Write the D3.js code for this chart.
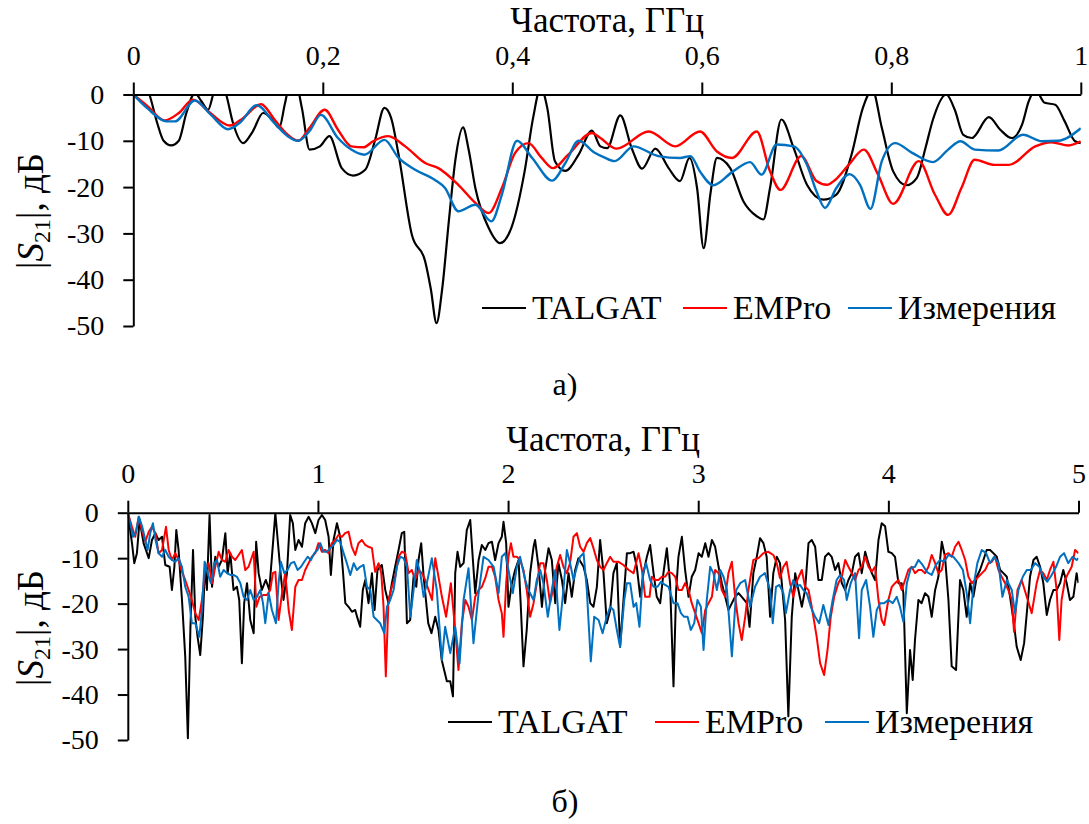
<!DOCTYPE html>
<html>
<head>
<meta charset="utf-8">
<script src="https://cdn.jsdelivr.net/npm/d3@7"></script>
<style>
body { margin: 0; background: #fff; }
svg { display: block; }
svg text { font-family: "Liberation Serif", "Times New Roman", serif; fill: #000; }
</style>
</head>
<body>
<svg id="drawing_region"></svg>
<script>
// ---- data (frequency GHz, |S21| dB) ----
const seriesNames = ["TALGAT", "EMPro", "Измерения"];
const yTicks = [0, -10, -20, -30, -40, -50];
const xTicksA = [0, 0.2, 0.4, 0.6, 0.8, 1];
const xTicksB = [0, 1, 2, 3, 4, 5];

// panel а) 0..1 GHz
const talgatA = [[0,4],[0.01,3],[0.017,0],[0.025,-6],[0.032,-10],[0.04,-11],[0.048,-10],[0.056,-4],[0.065,0.3],[0.072,-1.5],[0.079,-3.3],[0.085,0.5],[0.091,3],[0.098,0],[0.105,-6],[0.116,-10.5],[0.126,-8],[0.137,-4],[0.147,-5.5],[0.154,-7.2],[0.16,-2],[0.165,2],[0.172,2],[0.178,-3],[0.186,-11.9],[0.197,-11.2],[0.207,-9],[0.22,-15.9],[0.232,-17.5],[0.245,-16.2],[0.255,-10],[0.265,-2.9],[0.272,-5],[0.28,-13],[0.294,-30.3],[0.308,-36],[0.314,-42],[0.32,-49.4],[0.326,-42],[0.333,-27.4],[0.34,-14],[0.348,-7.1],[0.354,-12],[0.361,-20.2],[0.375,-28.8],[0.387,-32.1],[0.399,-28.8],[0.413,-16.6],[0.422,-5],[0.43,1.5],[0.437,-3],[0.445,-14.4],[0.456,-16.5],[0.47,-13],[0.484,-7.8],[0.493,-11.2],[0.5,-11.6],[0.514,-4.5],[0.526,-11.6],[0.537,-16],[0.551,-11.7],[0.565,-15.9],[0.577,-18.7],[0.587,-13.7],[0.595,-20.2],[0.602,-33.2],[0.609,-21.6],[0.616,-13.7],[0.63,-15.9],[0.644,-23.1],[0.658,-26.3],[0.665,-27],[0.672,-20.2],[0.684,-5.4],[0.697,-11.6],[0.711,-19.5],[0.728,-22.7],[0.742,-21.6],[0.758,-13],[0.77,-2.9],[0.78,1],[0.79,-7.2],[0.802,-16.6],[0.816,-19.6],[0.827,-18],[0.836,-11.6],[0.844,-5.4],[0.858,0],[0.867,-3.3],[0.876,-8.7],[0.885,-9.4],[0.903,-4.9],[0.915,-7.6],[0.927,-9.4],[0.938,-6.5],[0.945,-1.5],[0.952,1],[0.962,-1.8],[0.973,-2.2],[0.983,-5.8],[0.994,-10.1],[1,-10.5]];
const empro_A = [[0,0],[0.015,-2.5],[0.033,-5.6],[0.048,-4],[0.063,-1.1],[0.079,-3.6],[0.102,-6.7],[0.114,-5.4],[0.135,-2.1],[0.149,-5.4],[0.163,-8.7],[0.174,-10],[0.186,-7.2],[0.202,-3.3],[0.216,-7.6],[0.23,-11.2],[0.243,-11.4],[0.253,-10.1],[0.269,-9],[0.287,-11.2],[0.308,-14.8],[0.322,-15.9],[0.343,-19.5],[0.361,-23.4],[0.375,-25.6],[0.389,-20.2],[0.403,-12.6],[0.417,-10.5],[0.431,-13.7],[0.443,-15.9],[0.459,-13],[0.484,-8.3],[0.493,-9.4],[0.51,-11.7],[0.544,-8],[0.572,-11.2],[0.598,-8],[0.616,-12.3],[0.632,-13.7],[0.658,-8],[0.672,-16.6],[0.683,-20.6],[0.705,-13.3],[0.721,-18.7],[0.732,-19.5],[0.741,-18.4],[0.755,-15.2],[0.771,-11.9],[0.786,-17.3],[0.802,-23.6],[0.829,-14.4],[0.846,-21.6],[0.86,-26],[0.874,-20.2],[0.888,-14.1],[0.909,-15.2],[0.924,-15.2],[0.952,-11.2],[0.969,-10.3],[0.987,-11],[1,-10.1]];
const measA = [[0,0],[0.015,-3],[0.035,-5.8],[0.044,-5.8],[0.065,-1.3],[0.082,-4.4],[0.1,-7.5],[0.113,-6],[0.13,-2.3],[0.149,-6.2],[0.163,-9],[0.174,-10],[0.186,-7.9],[0.198,-4.4],[0.216,-9.4],[0.23,-11.9],[0.244,-13],[0.265,-9.8],[0.28,-13.7],[0.297,-16.2],[0.318,-18.4],[0.329,-20.2],[0.343,-25.2],[0.361,-23.8],[0.378,-27.4],[0.389,-21.6],[0.405,-10],[0.421,-13.7],[0.442,-18.6],[0.456,-14.8],[0.47,-10],[0.487,-12.6],[0.497,-13.6],[0.508,-14.4],[0.528,-11.2],[0.554,-13.3],[0.577,-13.7],[0.588,-13.3],[0.598,-16.6],[0.612,-19.6],[0.633,-16.6],[0.651,-14.6],[0.663,-17.3],[0.679,-10.8],[0.697,-11.2],[0.711,-15.2],[0.721,-20.9],[0.73,-24.5],[0.742,-20.2],[0.756,-17.2],[0.767,-19.5],[0.778,-24.7],[0.79,-14.4],[0.804,-10.5],[0.822,-12.6],[0.844,-14.6],[0.86,-11.9],[0.873,-10.1],[0.888,-11.9],[0.913,-12.1],[0.939,-8.7],[0.959,-10.1],[0.976,-10],[1,-7.3]];

// panel б) 0..5 GHz
const talgatB = [[0,0],[0.022,-6.7],[0.034,-11.1],[0.048,-8.9],[0.062,-1.6],[0.083,-6.7],[0.11,-10],[0.127,-6],[0.145,-4.5],[0.162,-6],[0.18,-5.3],[0.197,-11.5],[0.22,-11.9],[0.232,-17],[0.245,-11.9],[0.255,-3.8],[0.267,-8.2],[0.285,-19.2],[0.302,-31.6],[0.316,-49.6],[0.329,-25.8],[0.343,-8.2],[0.355,-22.9],[0.367,-27.3],[0.381,-31.3],[0.395,-22.9],[0.407,-11.1],[0.416,-17],[0.43,-0.5],[0.443,-16.3],[0.46,-9.7],[0.478,-11.9],[0.495,-10.4],[0.513,-4.5],[0.525,-13.3],[0.539,-8.9],[0.556,-17],[0.574,-16.3],[0.586,-19.2],[0.6,-33.1],[0.612,-19.9],[0.627,-15.5],[0.644,-23.6],[0.662,-26.5],[0.675,-6.4],[0.688,-13.3],[0.705,-17],[0.726,-14.8],[0.744,-17],[0.758,-9.7],[0.776,-0.1],[0.793,-8.2],[0.807,-14.8],[0.819,-19.2],[0.837,-13.3],[0.854,-0.5],[0.868,-2.3],[0.881,-8.2],[0.898,-6],[0.916,-7.5],[0.933,-2.3],[0.951,-0.9],[0.968,-2.3],[0.986,-4.5],[1.003,-1.6],[1.021,-0.5],[1.038,-1.6],[1.056,-5.3],[1.068,-13.7],[1.082,-6],[1.1,-2.3],[1.117,-5.3],[1.131,-12.6],[1.144,-19.9],[1.161,-20.7],[1.179,-21.8],[1.196,-21.4],[1.208,-23.2],[1.222,-25.1],[1.236,-17],[1.249,-14.8],[1.266,-19.9],[1.284,-13.3],[1.298,-21.4],[1.313,-12.6],[1.336,-11.5],[1.354,-17],[1.371,-19.9],[1.389,-15.5],[1.406,-11.9],[1.424,-8.2],[1.441,-4.5],[1.454,-4.2],[1.468,-24.3],[1.485,-23.6],[1.503,-14.1],[1.517,-16.3],[1.529,-10.4],[1.543,-6.7],[1.556,-14.1],[1.58,-24.3],[1.597,-26.5],[1.617,-22.9],[1.634,-25.8],[1.651,-32.4],[1.678,-37.1],[1.696,-37.1],[1.71,-40.4],[1.722,-13.3],[1.734,-8.6],[1.748,-11.9],[1.766,-11.1],[1.783,-3.8],[1.801,-1.6],[1.815,-10.4],[1.827,-17.7],[1.845,-10.4],[1.862,-7.1],[1.88,-8.2],[1.897,-6.7],[1.915,-6.4],[1.932,-10.4],[1.95,-6.7],[1.967,-5.3],[1.976,-2],[1.99,-6.7],[2.002,-20.7],[2.02,-15.5],[2.037,-12.6],[2.055,-10.4],[2.067,-20.7],[2.081,-33.8],[2.098,-25.8],[2.116,-13.3],[2.134,-7.5],[2.142,-6],[2.16,-11.9],[2.178,-20.7],[2.195,-12.6],[2.213,-7.8],[2.23,-10.4],[2.248,-19.9],[2.265,-11.1],[2.283,-14.8],[2.3,-19.9],[2.318,-13.3],[2.335,-18.5],[2.353,-12.6],[2.37,-10],[2.397,-11.9],[2.414,-14.8],[2.432,-19.9],[2.449,-20.7],[2.467,-16.3],[2.484,-6],[2.502,-13.3],[2.519,-24.3],[2.537,-21.4],[2.554,-13.3],[2.572,-11.1],[2.589,-29.5],[2.607,-19.2],[2.625,-8.9],[2.642,-8.9],[2.66,-8.6],[2.677,-11.9],[2.695,-18.5],[2.712,-13.3],[2.73,-9.7],[2.747,-7.1],[2.765,-13.3],[2.782,-18.5],[2.8,-19.9],[2.817,-13.3],[2.835,-7.8],[2.852,-15.5],[2.87,-38.2],[2.884,-17],[2.896,-9.7],[2.914,-5.3],[2.931,-12.6],[2.949,-18.5],[2.966,-14.1],[2.984,-12.6],[3.002,-8.9],[3.019,-9.7],[3.037,-6.7],[3.054,-9.7],[3.072,-6],[3.089,-7.5],[3.107,-11.9],[3.124,-15.5],[3.142,-18.5],[3.159,-21.4],[3.177,-19.9],[3.194,-18.5],[3.212,-17.7],[3.229,-18.5],[3.256,-19.9],[3.27,-25.1],[3.29,-13.3],[3.308,-9.7],[3.325,-5.6],[3.343,-6.7],[3.36,-9.7],[3.378,-22.9],[3.395,-13.3],[3.413,-9.7],[3.43,-11.1],[3.457,-23.6],[3.474,-44.8],[3.492,-22.9],[3.51,-13.3],[3.527,-17],[3.545,-20.7],[3.562,-17],[3.58,-6.7],[3.597,-6],[3.615,-7.5],[3.632,-14.8],[3.65,-14.8],[3.667,-9.7],[3.685,-8.9],[3.702,-9.7],[3.72,-12.6],[3.737,-11.1],[3.755,-15.5],[3.773,-17],[3.79,-14.8],[3.808,-13.3],[3.825,-9.7],[3.843,-8.9],[3.86,-13.3],[3.878,-8.6],[3.895,-11.1],[3.913,-13.3],[3.93,-14.8],[3.948,-6],[3.965,-2.3],[3.983,-3],[4,-8.6],[4.018,-8.9],[4.035,-9.7],[4.053,-15.5],[4.07,-15.5],[4.079,-17.7],[4.097,-44.1],[4.114,-30.2],[4.128,-36.8],[4.14,-28],[4.158,-19.2],[4.175,-19.9],[4.193,-17.7],[4.211,-18.5],[4.228,-22.9],[4.246,-17],[4.263,-14.1],[4.281,-6.4],[4.298,-9.7],[4.316,-19.2],[4.333,-33.8],[4.356,-34.6],[4.377,-14.8],[4.394,-17],[4.412,-22.9],[4.43,-15.5],[4.447,-18.5],[4.465,-14.1],[4.482,-12.6],[4.5,-10.4],[4.517,-8.2],[4.535,-8.2],[4.552,-8.9],[4.57,-9.7],[4.588,-12.6],[4.605,-13.3],[4.623,-14.1],[4.64,-18.5],[4.658,-23.6],[4.675,-29.5],[4.696,-32.4],[4.714,-28.7],[4.731,-20.7],[4.745,-14.1],[4.763,-10.4],[4.78,-9.7],[4.798,-11.9],[4.815,-15.5],[4.833,-22.5],[4.85,-19.2],[4.868,-17],[4.885,-17],[4.903,-15.5],[4.92,-12.6],[4.938,-15.5],[4.955,-19.2],[4.973,-18.5],[4.99,-13.3],[5,-15.5]];
const empro_B = [[0,0],[0.022,-3.1],[0.039,-5.3],[0.057,-0.9],[0.074,-3.8],[0.092,-6.4],[0.11,-4.2],[0.127,-3.1],[0.145,-4.5],[0.162,-8.9],[0.18,-8.2],[0.201,-3.1],[0.215,-8.2],[0.232,-10.4],[0.25,-8.9],[0.267,-10.4],[0.285,-13],[0.302,-14.8],[0.32,-17],[0.337,-19.2],[0.355,-22.1],[0.373,-23.6],[0.39,-19.2],[0.407,-12.6],[0.425,-11.1],[0.443,-15.5],[0.46,-11.9],[0.478,-8.6],[0.495,-10.4],[0.513,-10.8],[0.53,-8.2],[0.548,-9.7],[0.565,-10.4],[0.583,-9.3],[0.6,-8.2],[0.618,-12.6],[0.635,-11.9],[0.653,-9.7],[0.662,-8.6],[0.676,-20.7],[0.693,-18.5],[0.714,-18.1],[0.732,-18.1],[0.749,-17],[0.763,-13.3],[0.776,-13],[0.793,-23.6],[0.811,-17.7],[0.828,-13.3],[0.846,-21.4],[0.863,-25.8],[0.881,-16.3],[0.898,-14.8],[0.916,-14.8],[0.933,-12.6],[0.951,-11.1],[0.968,-9.7],[0.986,-8.9],[1.003,-6.7],[1.021,-8.6],[1.038,-8.2],[1.056,-8.9],[1.073,-6.7],[1.091,-6],[1.108,-4.9],[1.126,-5.3],[1.143,-4.5],[1.161,-4.2],[1.178,-7.5],[1.196,-9.3],[1.213,-6.7],[1.231,-6],[1.249,-7.1],[1.266,-7.5],[1.284,-7.8],[1.301,-13],[1.319,-11.1],[1.333,-13.3],[1.345,-20.7],[1.357,-36],[1.371,-19.2],[1.389,-16.3],[1.406,-14.1],[1.424,-9.7],[1.441,-8.6],[1.459,-8.9],[1.477,-13.3],[1.494,-12.6],[1.511,-14.8],[1.529,-12.6],[1.547,-13.3],[1.564,-14.8],[1.582,-17],[1.6,-19.2],[1.617,-10],[1.634,-14.1],[1.652,-18.5],[1.674,-22.9],[1.699,-15.5],[1.722,-25.8],[1.739,-34.6],[1.757,-24.3],[1.775,-19.2],[1.792,-20.7],[1.81,-23.6],[1.827,-18.5],[1.845,-17],[1.862,-16.3],[1.88,-14.4],[1.897,-11.9],[1.915,-11.9],[1.932,-14.1],[1.95,-19.2],[1.967,-22.1],[1.976,-27.3],[1.99,-15.5],[2.002,-9.7],[2.015,-6.7],[2.028,-9.7],[2.046,-9.7],[2.063,-10.4],[2.081,-12.6],[2.098,-17],[2.116,-22.9],[2.134,-19.9],[2.151,-15.5],[2.169,-11.1],[2.186,-11.1],[2.204,-14.8],[2.221,-19.9],[2.239,-16.3],[2.256,-11.9],[2.274,-9.3],[2.291,-11.9],[2.309,-13.3],[2.326,-11.1],[2.344,-5.3],[2.362,-4.5],[2.379,-7.5],[2.397,-8.6],[2.414,-6.7],[2.432,-5.6],[2.449,-7.8],[2.467,-10.4],[2.484,-11.9],[2.502,-12.6],[2.519,-11.1],[2.537,-9.7],[2.554,-10.8],[2.581,-10.8],[2.607,-11.5],[2.634,-12.6],[2.66,-13.3],[2.686,-8.9],[2.704,-12.6],[2.721,-18.5],[2.744,-18.5],[2.756,-14.1],[2.774,-14.8],[2.791,-14.8],[2.809,-14.1],[2.826,-14.1],[2.844,-13],[2.861,-13.3],[2.879,-14.1],[2.896,-17],[2.914,-17],[2.931,-15.5],[2.949,-17],[2.966,-19.9],[2.984,-22.1],[3.002,-24.3],[3.019,-26.5],[3.037,-21.4],[3.054,-19.9],[3.072,-18.5],[3.089,-12.6],[3.107,-13.3],[3.124,-17],[3.142,-18.5],[3.159,-13.3],[3.177,-10.8],[3.194,-18.5],[3.212,-24.3],[3.229,-28],[3.247,-22.9],[3.264,-17],[3.29,-10.4],[3.317,-10],[3.343,-8.9],[3.369,-8.6],[3.395,-9.3],[3.413,-11.1],[3.43,-14.4],[3.448,-11.9],[3.465,-10.8],[3.483,-15.5],[3.5,-18.5],[3.521,-14.8],[3.545,-12.6],[3.562,-16.3],[3.58,-17],[3.597,-20.7],[3.623,-27.3],[3.641,-33.1],[3.662,-35.7],[3.68,-30.2],[3.697,-22.9],[3.715,-18.5],[3.737,-15.5],[3.755,-14.1],[3.773,-10.4],[3.79,-11.9],[3.808,-13.3],[3.825,-14.8],[3.843,-12.6],[3.86,-11.9],[3.878,-9.7],[3.895,-11.9],[3.913,-13],[3.93,-11.9],[3.948,-19.2],[3.965,-23.6],[3.978,-24.7],[4,-19.2],[4.018,-16.3],[4.035,-15.5],[4.053,-14.8],[4.07,-17],[4.088,-14.8],[4.105,-12.6],[4.123,-11.9],[4.14,-13.3],[4.158,-12.6],[4.175,-12.6],[4.193,-13.3],[4.211,-11.9],[4.228,-9.3],[4.246,-11.1],[4.263,-13.3],[4.281,-12.6],[4.298,-9.3],[4.316,-8.9],[4.333,-9.7],[4.351,-7.5],[4.369,-6.4],[4.386,-8.2],[4.404,-10.4],[4.421,-14.1],[4.439,-15.5],[4.456,-14.8],[4.474,-14.1],[4.492,-13.3],[4.509,-12.6],[4.526,-11.1],[4.544,-10.8],[4.561,-9.7],[4.579,-12.6],[4.596,-14.1],[4.614,-15.5],[4.631,-17],[4.649,-19.2],[4.661,-26.2],[4.679,-17],[4.701,-14.8],[4.728,-18.5],[4.754,-22.1],[4.78,-15.5],[4.798,-12.6],[4.815,-13.3],[4.833,-14.8],[4.85,-12.6],[4.868,-10.8],[4.885,-17],[4.899,-28],[4.911,-19.2],[4.929,-14.8],[4.946,-13.3],[4.964,-11.9],[4.982,-8.2],[5,-8.9]];
const measB = [[0,0],[0.013,-2.3],[0.027,-5.3],[0.041,-4.5],[0.059,-0.9],[0.076,-3.1],[0.092,-6],[0.104,-8.2],[0.118,-4.5],[0.132,-2.3],[0.146,-6],[0.162,-8.9],[0.18,-9.7],[0.197,-8.2],[0.215,-9.7],[0.232,-10.4],[0.25,-10.8],[0.267,-10],[0.285,-11.9],[0.302,-16.3],[0.32,-18.5],[0.337,-24.3],[0.355,-24.3],[0.376,-27.3],[0.39,-21.4],[0.404,-10.8],[0.42,-13.3],[0.437,-15.5],[0.455,-11.1],[0.469,-10.4],[0.486,-14.1],[0.504,-12.6],[0.521,-13.3],[0.539,-13.7],[0.556,-13.7],[0.574,-14.1],[0.592,-15.5],[0.609,-18.5],[0.627,-19.2],[0.644,-17],[0.662,-19.2],[0.679,-18.5],[0.697,-17],[0.711,-19.9],[0.723,-24.3],[0.741,-17.7],[0.758,-21.4],[0.779,-24.3],[0.793,-15.5],[0.805,-10.8],[0.823,-13.3],[0.84,-12.6],[0.858,-11.1],[0.875,-10.8],[0.893,-12.6],[0.911,-11.9],[0.928,-10.8],[0.946,-9.7],[0.963,-10.4],[0.981,-8.9],[0.998,-8.2],[1.012,-6.7],[1.03,-8.6],[1.047,-8.6],[1.065,-7.8],[1.082,-7.1],[1.1,-6],[1.117,-6.4],[1.135,-8.9],[1.152,-11.1],[1.17,-13.7],[1.188,-11.1],[1.205,-12.6],[1.222,-11.9],[1.24,-11.5],[1.258,-16.3],[1.275,-17],[1.293,-22.9],[1.31,-23.6],[1.327,-24.3],[1.349,-26.5],[1.363,-20.7],[1.38,-19.2],[1.398,-17],[1.415,-11.9],[1.433,-9.7],[1.45,-10],[1.468,-11.9],[1.486,-22.9],[1.503,-17],[1.52,-10.4],[1.538,-13.3],[1.556,-18.5],[1.573,-15.5],[1.599,-10],[1.625,-17],[1.652,-32.4],[1.669,-25.1],[1.696,-30.9],[1.722,-25.1],[1.745,-33.1],[1.766,-19.2],[1.792,-12.2],[1.818,-28.7],[1.845,-17.7],[1.871,-9.7],[1.897,-10.4],[1.924,-11.9],[1.95,-17.7],[1.967,-9.7],[1.985,-8.9],[2.002,-12.6],[2.025,-17.7],[2.046,-11.9],[2.063,-9.7],[2.09,-14.8],[2.107,-17],[2.134,-19.2],[2.151,-14.8],[2.169,-12.6],[2.186,-15.5],[2.209,-22.9],[2.23,-17],[2.248,-12.6],[2.27,-25.8],[2.291,-17],[2.309,-8.2],[2.326,-11.1],[2.344,-14.8],[2.362,-11.9],[2.379,-9.7],[2.397,-8.9],[2.414,-17],[2.435,-32.7],[2.453,-22.9],[2.476,-23.6],[2.497,-26.5],[2.519,-22.9],[2.537,-20.7],[2.554,-21.4],[2.572,-25.8],[2.589,-29.5],[2.611,-19.2],[2.625,-15.5],[2.642,-15.5],[2.66,-20.7],[2.674,-19.9],[2.691,-25.1],[2.709,-13.3],[2.726,-11.1],[2.747,-14.8],[2.765,-16.3],[2.786,-16.3],[2.804,-15.2],[2.826,-15.9],[2.844,-16.3],[2.87,-19.9],[2.891,-19.9],[2.909,-22.1],[2.926,-22.9],[2.944,-22.9],[2.961,-25.8],[2.979,-24.3],[2.996,-19.2],[3.014,-20.7],[3.028,-30.2],[3.045,-19.2],[3.063,-11.9],[3.08,-13.3],[3.098,-17],[3.116,-12.6],[3.133,-14.1],[3.151,-17],[3.177,-31.6],[3.2,-17],[3.221,-15.5],[3.247,-14.8],[3.273,-20.7],[3.299,-16.3],[3.325,-14.1],[3.351,-13.3],[3.378,-17],[3.392,-24.3],[3.409,-16.3],[3.427,-15.9],[3.448,-17.7],[3.461,-22.1],[3.483,-17],[3.5,-14.8],[3.518,-16.3],[3.536,-15.9],[3.553,-17],[3.571,-17.7],[3.592,-20.7],[3.615,-22.9],[3.636,-24.3],[3.658,-20.3],[3.685,-24.7],[3.707,-19.2],[3.728,-14.8],[3.746,-13.7],[3.767,-14.8],[3.781,-19.2],[3.802,-15.5],[3.825,-13.3],[3.846,-27.6],[3.86,-17],[3.883,-14.8],[3.904,-20.7],[3.921,-27.3],[3.939,-21.4],[3.957,-19.9],[3.978,-19.9],[4,-19.2],[4.023,-19.9],[4.044,-18.5],[4.061,-20.7],[4.079,-24],[4.097,-15.5],[4.118,-12.2],[4.14,-11.9],[4.158,-10.4],[4.18,-11.5],[4.202,-13],[4.228,-13.7],[4.25,-11.5],[4.272,-10.4],[4.293,-10.8],[4.316,-9.3],[4.342,-9.7],[4.369,-11.1],[4.392,-12.6],[4.412,-17.7],[4.43,-24.3],[4.447,-16.3],[4.468,-11.1],[4.491,-8.2],[4.514,-8.9],[4.535,-11.1],[4.556,-9.7],[4.579,-11.1],[4.6,-18.5],[4.623,-14.8],[4.649,-17],[4.666,-22.1],[4.684,-17],[4.707,-14.1],[4.728,-12.6],[4.749,-12.6],[4.772,-11.1],[4.794,-11.9],[4.815,-14.1],[4.836,-15.2],[4.859,-13.7],[4.882,-11.9],[4.903,-9.7],[4.924,-8.9],[4.946,-11.1],[4.969,-9.7],[4.99,-10.4],[5,-10]];

const COLORS = ['#000000', '#ff0000', '#0070c0'];

class S21Panel {

    constructor( config, series ) {
        this.config = config;
        this.series = series;
        this.init();
    }

    init() {
        let self = this;
        const c = self.config;
        self.svg = d3.select( c.parent );
        self.chart = self.svg.append('g');

        self.xscale = d3.scaleLinear()
            .domain( [0, c.xmax] )
            .range( [c.left, c.right] );
        self.yscale = d3.scaleLinear()
            .domain( [0, -50] )
            .range( [c.top, c.bottom] );

        self.chart.append('clipPath')
            .attr('id', c.clipId)
            .append('rect')
            .attr('x', c.left)
            .attr('y', c.top)
            .attr('width', c.right - c.left)
            .attr('height', c.bottom - c.top);
    }

    render() {
        let self = this;
        const c = self.config;

        const line = d3.line()
            .x( d => self.xscale( d[0] ) )
            .y( d => self.yscale( d[1] ) )
            .curve( c.smooth ? d3.curveMonotoneX : d3.curveLinear );

        const lines = self.chart.append('g')
            .attr('clip-path', `url(#${c.clipId})`);
        self.series.forEach( (s, i) => {
            lines.append('path')
                .attr('d', line( s ))
                .attr('fill', 'none')
                .attr('stroke', COLORS[i])
                .attr('stroke-width', c.lineWidth[i])
                .attr('stroke-linejoin', 'round');
        });

        // axes
        const xaxis = d3.axisTop( self.xscale )
            .tickValues( c.xticks )
            .tickSize( 12 )
            .tickSizeOuter( 0 )
            .tickPadding( c.top - 12 - c.tickLabelY )
            .tickFormat( d => String(d).replace('.', ',') );
        const yaxis = d3.axisLeft( self.yscale )
            .tickValues( yTicks )
            .tickSize( 10 )
            .tickSizeOuter( 0 )
            .tickPadding( 19 )
            .tickFormat( d => String(d) );

        const yg = self.chart.append('g')
            .attr('transform', `translate(${c.left},0)`)
            .call( yaxis );
        const xg = self.chart.append('g')
            .attr('transform', `translate(0,${c.top})`)
            .call( xaxis );
        [xg, yg].forEach( g => {
            g.attr('font-family', null).attr('font-size', 28);
            g.selectAll('path, line').attr('stroke', '#000').attr('stroke-width', 2);
            g.selectAll('text').attr('fill', '#000');
        });

        // axis titles
        self.chart.append('text')
            .attr('x', (c.left + c.right) / 2)
            .attr('y', c.titleY)
            .attr('text-anchor', 'middle')
            .attr('font-size', 35)
            .text('Частота, ГГц');

        const yt = self.chart.append('text')
            .attr('transform', `translate(43,${c.yTitleY}) rotate(-90)`)
            .attr('text-anchor', 'middle')
            .attr('font-size', 37);
        yt.append('tspan').text('|');
        yt.append('tspan').attr('font-style', 'italic').text('S');
        yt.append('tspan').attr('font-size', 24).attr('dy', 7).text('21');
        yt.append('tspan').attr('dy', -7).text('|, дБ');

        // legend
        const lg = self.chart.append('g');
        seriesNames.forEach( (name, i) => {
            const lx = c.legendX[i];
            lg.append('line')
                .attr('x1', lx).attr('x2', lx + 44)
                .attr('y1', c.legendY).attr('y2', c.legendY)
                .attr('stroke', COLORS[i])
                .attr('stroke-width', 2.2);
            lg.append('text')
                .attr('x', lx + 50)
                .attr('y', c.legendY + 11)
                .attr('font-size', 34)
                .text( name );
        });

        // caption
        self.chart.append('text')
            .attr('x', 565)
            .attr('y', c.captionY)
            .attr('text-anchor', 'middle')
            .attr('font-size', 32)
            .text( c.caption );
    }
}

d3.select('#drawing_region')
    .attr('width', 1089)
    .attr('height', 824);

const panelA = new S21Panel({
    parent: '#drawing_region', clipId: 'clipA',
    left: 133.3, right: 1080.8, top: 94.5, bottom: 326, xmax: 1,
    xticks: xTicksA, titleY: 32, tickLabelY: 65, yTitleY: 211,
    legendY: 308, legendX: [482, 683, 848],
    caption: 'а)', captionY: 395, smooth: true, lineWidth: [2.2, 2.4, 2.4]
}, [talgatA, empro_A, measA]);
panelA.render();

const panelB = new S21Panel({
    parent: '#drawing_region', clipId: 'clipB',
    left: 127.8, right: 1078.5, top: 512.7, bottom: 740, xmax: 5,
    xticks: xTicksB, titleY: 451, tickLabelY: 483, yTitleY: 628,
    legendY: 722, legendX: [448, 655, 825],
    caption: 'б)', captionY: 812, smooth: false, lineWidth: [2, 2, 2]
}, [talgatB, empro_B, measB]);
panelB.render();
</script>
</body>
</html>
